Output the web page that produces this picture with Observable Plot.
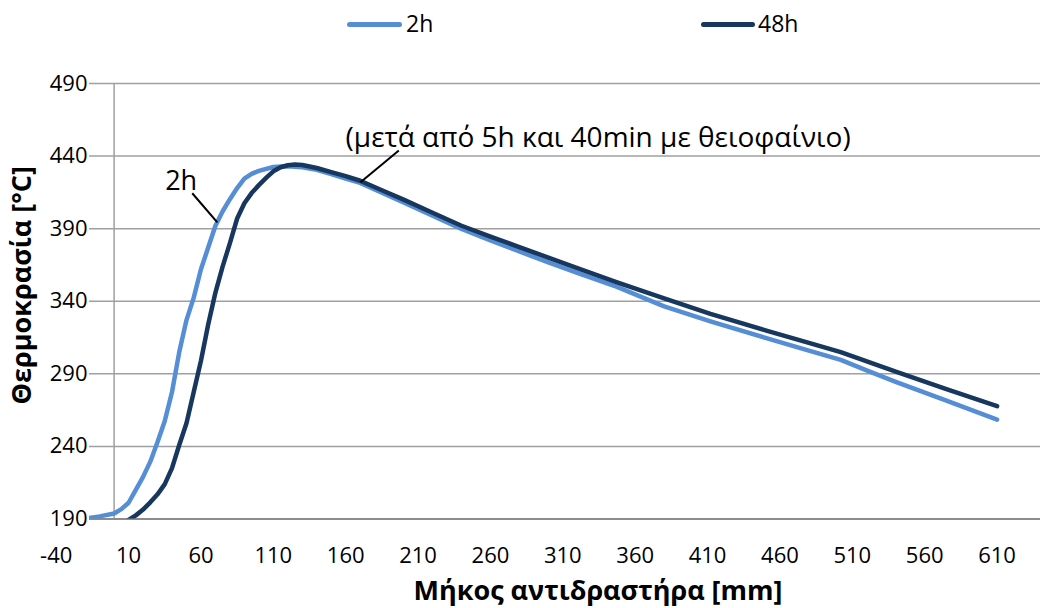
<!DOCTYPE html>
<html><head><meta charset="utf-8">
<script src="https://cdn.jsdelivr.net/npm/d3@7"></script>
<script src="https://cdn.jsdelivr.net/npm/@observablehq/plot@0.6"></script>
<style>
body{margin:0;background:#fff;font-family:"Open Sans",sans-serif;}
#legend{position:relative;width:1040px;height:60px;}
.sw{position:absolute;height:5px;border-radius:3px;top:21.5px}
.lt{position:absolute;font-size:23px;line-height:1;top:11.5px;color:#000}
</style></head><body>
<div id="legend"></div><div id="chart"></div>
<script>
// ---- data ----
const seriesNames = ["2h", "48h"];
const seriesColors = ["#558ED5", "#17375E"];

const x2h = [-17,-10,0,5,10,15,20,25,30,35,40,45,50,55,60,65,70,75,80,85,90,95,100,110,120,130,140,150,160,170,200,220,240,260,280,300,320,347,380,412,450,480,502,522,540,575,610];
const y2h = [190.7,191.8,193.8,196.8,201.2,210,219,229.5,243,257.5,277.5,305,327,342.5,362,377,392,402,410.3,418,424.5,427.8,429.8,432.5,433,432.3,430.6,427.6,424.5,421.5,408,399,389.8,382,374.3,366.8,359.5,350.1,336.5,326.2,314.8,306,299.6,291.5,284.5,271.5,258.5];

const x48h = [0,5,10,15,20,25,30,35,40,45,50,55,60,65,70,75,80,85,90,95,100,105,110,115,120,125,130,140,150,160,170,185,200,220,240,260,280,300,320,347,380,412,450,480,502,540,575,610];
const y48h = [184,186.5,189.3,192.5,196.5,201.5,207,214,225,241,256,277.5,299,324,346,364,380,397,407.5,414.5,420,425,429.5,432.3,433.7,434.2,433.9,431.8,429,426.2,423,416.5,410,401,392,384.5,377.3,370,362.8,353.1,342,331.3,320,311.3,304.9,291.5,279.5,267.7];

const xTicks = [-40,10,60,110,160,210,260,310,360,410,460,510,560,610];
const yTicks = [190,240,290,340,390,440,490];
const xDomain = [-17, 640];
const axisCross = [0];
const xTitle = "Μήκος αντιδραστήρα [mm]";
const yTitle = "Θερμοκρασία [°C]";
const annotations = [
  {label: "2h", x: 46.3, y: 422.4, x1: 54.0, y1: 414.4, x2: 71.3, y2: 394.4, anchor: "middle"},
  {label: "(μετά από 5h και 40min με θειοφαίνιο)", x: 159.9, y: 452.7, x1: 196.7, y1: 443.8, x2: 170.2, y2: 422.0, anchor: "start"}
];

// ---- build ----
const rows = [
  ...x2h.map((x, i) => ({series: seriesNames[0], x, y: y2h[i]})),
  ...x48h.map((x, i) => ({series: seriesNames[1], x, y: y48h[i]}))
];

const legend = document.getElementById("legend");
const legendPos = [[347, 55, 406], [701, 54, 758]];
seriesNames.forEach((n, i) => {
  const [l, w, tl] = legendPos[i];
  const s = document.createElement("div");
  s.className = "sw"; s.style.left = l + "px"; s.style.width = w + "px"; s.style.background = seriesColors[i];
  const t = document.createElement("div");
  t.className = "lt"; t.style.left = tl + "px"; t.textContent = n;
  legend.append(s, t);
});

const fs = 22;
const chart = Plot.plot({
  width: 1040, height: 548,
  marginLeft: 89, marginRight: 0, marginTop: 23, marginBottom: 89.5,
  x: {domain: xDomain, axis: null},
  y: {domain: [yTicks[0], yTicks[yTicks.length - 1]]},
  color: {domain: seriesNames, range: seriesColors},
  style: {fontFamily: "'Open Sans', sans-serif", background: "white", overflow: "visible", color: "black"},
  marks: [
    Plot.ruleY(yTicks.slice(1), {stroke: "#a0a0a0", strokeWidth: 1.5}),
    Plot.ruleX(axisCross, {y1: yTicks[0], y2: yTicks[yTicks.length - 1], stroke: "#a0a0a0", strokeWidth: 1.5}),
    Plot.ruleY([yTicks[0]], {stroke: "#8c8c8c", strokeWidth: 2}),
    Plot.axisY(yTicks, {tickSize: 0, tickPadding: 2, fontSize: fs, label: null, fill: "black"}),
    Plot.text(xTicks, {x: d => d, y: yTicks[0], text: d => String(d), dy: 37, fontSize: fs, fill: "black"}),
    Plot.line(rows, {x: "x", y: "y", z: "series", stroke: "series", strokeWidth: 4.5, clip: true,
      strokeLinejoin: "round", strokeLinecap: "round"}),
    Plot.link(annotations, {x1: "x1", y1: "y1", x2: "x2", y2: "y2", stroke: "black", strokeWidth: 2}),
    Plot.text(annotations.filter(d => d.anchor === "middle"), {x: "x", y: "y", text: "label", fontSize: 27, textAnchor: "middle", fill: "black"}),
    Plot.text(annotations.filter(d => d.anchor === "start"), {x: "x", y: "y", text: "label", fontSize: 28, textAnchor: "start", fill: "black"}),
    Plot.text([xTitle], {frameAnchor: "bottom", lineAnchor: "middle", textAnchor: "middle", dy: 72.5, dx: 33, fontSize: 27, fontWeight: "bold", fill: "black"}),
    Plot.text([yTitle], {frameAnchor: "left", lineAnchor: "middle", textAnchor: "middle", rotate: -90, dx: -67, dy: -16, fontSize: 27, fontWeight: "bold", fill: "black"})
  ]
});
document.getElementById("chart").append(chart);
</script>
</body></html>
